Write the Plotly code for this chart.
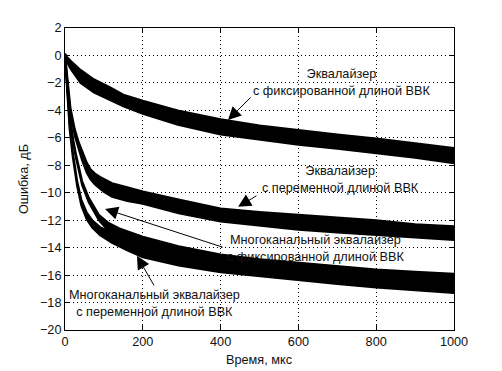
import plotly.graph_objects as go

# ---- data (time, us ; error, dB) ----
# Curve 1: equalizer with fixed length (upper / lower envelope of the noisy band)
t_eq_fix = [0, 5, 15, 40, 75, 115, 150, 200, 290, 400, 500, 600, 700, 800, 900, 1000]
up_eq_fix = [0.15, -0.1, -0.4, -1.05, -1.75, -2.3, -2.85, -3.3, -4.0, -4.65, -5.1, -5.45, -5.75, -6.05, -6.4, -6.75]
lo_eq_fix = [-0.15, -0.5, -1.0, -2.0, -2.7, -3.25, -3.7, -4.25, -5.05, -5.75, -6.15, -6.5, -6.8, -7.1, -7.45, -7.85]

# Curve 2: equalizer with variable length
t_eq_var = [0, 5, 14, 25, 35, 44, 56, 66, 77, 90, 100, 121, 160, 200, 292, 400, 500, 600, 700, 800, 900, 1000]
up_eq_var = [0.1, -1.45, -3.8, -5.35, -6.3, -6.95, -7.8, -8.3, -8.6, -8.85, -9.0, -9.3, -9.6, -9.9, -10.5, -11.15, -11.4, -11.6, -11.8, -12.0, -12.3, -12.45]
lo_eq_var = [-0.15, -1.75, -4.2, -5.85, -6.9, -7.65, -8.55, -9.05, -9.4, -9.75, -9.95, -10.3, -10.6, -10.8, -11.5, -12.1, -12.4, -12.7, -12.9, -13.1, -13.3, -13.45]

# Curve 3: multichannel equalizer with fixed length
t_mc_fix = [0, 5, 12, 20, 28, 44, 61, 87, 112, 140, 170, 200, 292, 400, 500, 600, 700, 800, 900, 1000]
up_mc_fix = [0.1, -1.9, -4.15, -5.95, -7.15, -9.15, -10.35, -11.6, -12.2, -12.6, -12.9, -13.2, -13.9, -14.5, -14.85, -15.1, -15.35, -15.6, -15.75, -15.9]
lo_mc_fix = [-0.15, -2.15, -4.45, -6.25, -7.45, -9.45, -10.7, -12.0, -12.8, -13.3, -13.6, -13.9, -14.6, -15.2, -15.55, -15.8, -16.05, -16.3, -16.45, -16.6]

# Curve 4: multichannel equalizer with variable length
t_mc_var = [0, 5, 12, 20, 31, 42, 56, 70, 90, 121, 160, 200, 292, 400, 500, 600, 700, 800, 900, 1000]
up_mc_var = [0.1, -2.3, -5.0, -7.0, -9.1, -10.5, -11.45, -12.0, -12.5, -12.9, -13.3, -13.6, -14.3, -14.9, -15.2, -15.5, -15.75, -16.0, -16.15, -16.3]
lo_mc_var = [-0.15, -2.65, -5.4, -7.4, -9.5, -10.95, -11.95, -12.55, -13.1, -13.65, -14.2, -14.7, -15.3, -15.8, -16.1, -16.4, -16.65, -16.9, -17.1, -17.3]

x_ticks = [0, 200, 400, 600, 800, 1000]
y_ticks = [-20, -18, -16, -14, -12, -10, -8, -6, -4, -2, 0, 2]

labels = [
    "Эквалайзер<br>с фиксированной длиной ВВК",
    "Эквалайзер<br>с переменной длиной ВВК",
    "Многоканальный эквалайзер<br>с фиксированной длиной ВВК",
    "Многоканальный эквалайзер<br>с переменной длиной ВВК",
]
label_pos = [(712, -2.0), (707, -9.07), (643, -14.06), (231, -18.1)]
arrow_tail = [(481, -2.95), (496, -10.16), (409, -14.0), (231, -16.86)]
arrow_head = [(419, -4.7), (445, -11.03), (103, -11.18), (185, -14.6)]

FONT = "Liberation Sans, Arial, sans-serif"
TXT = "#111"

fig = go.Figure()
curves = [
    (t_eq_fix, up_eq_fix, lo_eq_fix),
    (t_eq_var, up_eq_var, lo_eq_var),
    (t_mc_fix, up_mc_fix, lo_mc_fix),
    (t_mc_var, up_mc_var, lo_mc_var),
]
for t, up, lo in curves:
    fig.add_trace(go.Scatter(x=t, y=lo, mode="lines", line=dict(color="black", width=2),
                             showlegend=False, hoverinfo="skip"))
    fig.add_trace(go.Scatter(x=t, y=up, mode="lines", line=dict(color="black", width=2),
                             fill="tonexty", fillcolor="black",
                             showlegend=False, hoverinfo="skip"))

annotations = []
for text, (lx, ly) in zip(labels, label_pos):
    annotations.append(dict(x=lx, y=ly, xref="x", yref="y", text=text, showarrow=False,
                            font=dict(family=FONT, size=12.7, color=TXT),
                            align="center", xanchor="center", yanchor="middle"))
for (tx, ty), (hx, hy) in zip(arrow_tail, arrow_head):
    annotations.append(dict(x=hx, y=hy, ax=tx, ay=ty, xref="x", yref="y", axref="x", ayref="y",
                            text="", showarrow=True, arrowhead=2, arrowsize=2.6, arrowwidth=1,
                            arrowcolor="black"))
# x-axis title
annotations.append(dict(x=0.5, y=-0.099, xref="paper", yref="paper", text="Время, мкс",
                        showarrow=False, font=dict(family=FONT, size=12.7, color=TXT),
                        xanchor="center", yanchor="middle"))

axis_common = dict(
    showline=True, linecolor="black", linewidth=1, mirror="ticks",
    ticks="inside", ticklen=5, tickcolor="black", tickwidth=1,
    showgrid=True, gridcolor="black", gridwidth=1, griddash="1px,3px",
    zeroline=False, automargin=False,
    tickfont=dict(family=FONT, size=12.7, color=TXT),
)

fig.update_layout(
    width=502, height=371,
    margin=dict(l=65, r=48, t=28, b=41),
    paper_bgcolor="white", plot_bgcolor="white",
    xaxis=dict(range=[0, 1000], tickvals=x_ticks, **axis_common),
    yaxis=dict(range=[-20, 2], tickvals=y_ticks,
               title=dict(text="Ошибка, дБ", font=dict(family=FONT, size=12.7, color=TXT), standoff=8),
               **axis_common),
    annotations=annotations,
)

fig.write_html("out.html", config={"displayModeBar": False},
               post_script="document.body.style.margin='0';document.body.style.padding='0';")
